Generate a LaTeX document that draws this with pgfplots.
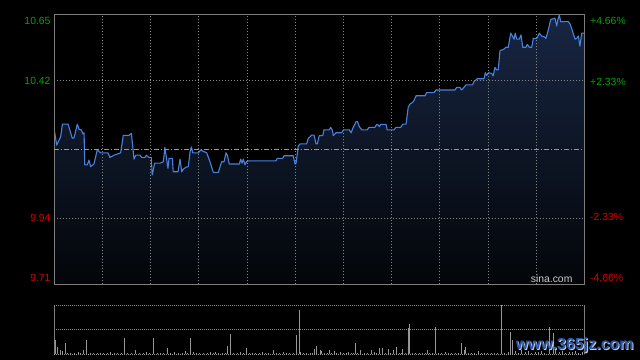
\documentclass[border=0pt]{standalone}
\usepackage{pgfplots}
\pgfplotsset{compat=1.18}
\usepackage{pgfplotstable}
\usepackage{fontspec}
\setmainfont{Liberation Sans}
\definecolor{cline}{RGB}{72,130,222}
\definecolor{cfilltop}{RGB}{24,38,66}
\definecolor{cfillbot}{RGB}{3,5,9}
\definecolor{cgrid}{RGB}{135,135,135}
\definecolor{cborder}{RGB}{125,125,125}
\definecolor{cgreen}{RGB}{0,165,0}
\definecolor{cred}{RGB}{215,0,0}
\definecolor{cvol}{RGB}{150,150,150}
\definecolor{cwm}{RGB}{38,86,170}

\pgfplotstableread{
m p
0 10.248
1.1 10.195
2.9 10.224
3.7 10.268
6.3 10.268
8.2 10.219
9.0 10.220
10.5 10.268
11.3 10.250
12.3 10.248
13.1 10.234
13.6 10.238
13.9 10.126
15.1 10.126
15.8 10.143
16.6 10.120
18.1 10.129
19.6 10.178
21.2 10.168
24.5 10.168
25.4 10.152
27.3 10.160
30.3 10.168
31.5 10.229
34.1 10.229
35.2 10.236
36.4 10.146
37.2 10.160
39.1 10.160
39.9 10.152
41.4 10.152
42.0 10.160
43.2 10.152
44.3 10.152
44.7 10.091
45.2 10.108
45.8 10.132
48.3 10.132
49.8 10.137
50.5 10.187
51.9 10.114
52.4 10.149
53.9 10.149
54.3 10.102
56.5 10.102
57.4 10.146
58.2 10.102
58.9 10.111
60.1 10.118
61.2 10.120
62.0 10.172
62.6 10.189
63.2 10.168
65.8 10.168
66.8 10.178
67.8 10.174
69.6 10.168
71.1 10.137
72.6 10.100
74.9 10.100
76.4 10.137
77.5 10.137
78.4 10.168
79.0 10.160
79.9 10.129
84.5 10.129
85.1 10.146
85.7 10.132
86.3 10.146
87.1 10.126
87.8 10.137
88.6 10.140
101.2 10.140
101.8 10.149
104.3 10.149
104.9 10.158
109.1 10.158
109.9 10.129
110.4 10.132
111.4 10.192
112.2 10.199
115.2 10.199
116.0 10.219
116.8 10.224
117.5 10.230
118.6 10.230
119.5 10.199
120.1 10.199
121.0 10.228
122.6 10.228
123.1 10.248
125.6 10.248
126.2 10.257
126.9 10.248
127.4 10.228
128.6 10.238
131.2 10.238
132.0 10.248
134.7 10.248
135.5 10.238
136.5 10.257
137.8 10.277
138.4 10.277
139.3 10.259
140.4 10.248
142.9 10.248
143.7 10.257
146.4 10.257
147.2 10.267
147.9 10.265
148.4 10.259
149.0 10.267
151.5 10.267
152.0 10.248
155.1 10.248
156.0 10.257
158.2 10.257
159.1 10.268
160.6 10.268
161.6 10.327
162.4 10.338
163.6 10.344
164.2 10.350
165.2 10.367
169.3 10.367
170.0 10.378
173.4 10.378
174.3 10.387
183.0 10.387
183.7 10.396
185.2 10.396
186.0 10.387
186.7 10.393
188.0 10.405
191.0 10.405
191.6 10.416
193.1 10.426
196.2 10.426
196.8 10.447
197.4 10.438
198.2 10.447
199.7 10.445
200.4 10.436
201.2 10.466
202.0 10.457
202.7 10.457
203.5 10.524
205.3 10.529
206.2 10.536
207.3 10.536
208.4 10.585
209.3 10.573
209.9 10.564
210.5 10.585
211.1 10.564
212.3 10.564
213.1 10.579
213.9 10.536
215.4 10.536
216.0 10.546
216.9 10.536
218.0 10.536
218.7 10.567
220.3 10.567
221.5 10.585
222.5 10.575
223.6 10.573
224.5 10.567
225.6 10.598
226.7 10.633
228.6 10.637
229.4 10.610
229.9 10.631
230.6 10.648
231.2 10.625
234.7 10.625
235.5 10.617
236.2 10.602
237.3 10.575
237.8 10.564
238.5 10.567
239.3 10.575
240.0 10.540
240.8 10.585
241.9 10.585
}\pricedata

\pgfplotstableread{
m v
0.3 30
1.4 14
2.6 9
3.7 7
5.0 22
5.9 3
7.2 3
9.1 2
10.8 4
12.0 2
13.2 9
14.6 30
16.6 3
17.8 3
19.6 3
21.0 2
22.5 3
24.1 2
25.8 4
27.5 2
29.0 3
30.6 2
32.0 34
33.5 3
35.0 2
37.2 9
38.8 3
40.5 2
42.0 4
43.6 2
45.2 34
47.0 3
48.5 2
50.0 3
51.6 12
53.2 2
55.0 4
56.8 3
58.4 2
60.0 7
61.0 3
62.1 34
63.5 4
64.9 2
66.5 3
68.0 2
69.7 3
71.4 4
72.5 2
73.4 4
75.0 3
76.7 3
78.0 2
79.0 17
80.4 41
82.0 3
83.5 2
85.0 4
86.5 2
87.7 12
89.0 3
90.6 2
92.0 3
93.5 2
95.0 4
96.5 3
98.0 2
100.0 9
101.5 3
103.0 2
104.6 4
106.0 2
107.5 3
109.0 2
110.5 39
111.9 90
112.5 4
113.8 3
115.2 2
116.8 3
118.0 2
119.0 11
119.6 17
121.6 9
122.1 7
123.5 3
124.6 2
125.6 9
126.6 3
127.7 7
129.0 2
130.5 4
132.0 2
133.3 3
134.2 4
135.5 2
136.5 3
137.4 22
138.5 2
140.0 9
141.5 3
143.0 2
144.9 9
146.0 4
147.3 2
148.4 12
149.8 12
151.0 3
152.5 10
153.5 2
154.8 9
156.3 15
157.5 3
158.3 2
159.1 10
160.5 3
161.8 53
162.1 61
163.5 2
165.0 3
166.5 2
168.0 3
169.3 2
170.3 9
171.5 3
172.8 2
174.0 56
175.5 3
177.0 2
178.5 4
180.0 2
181.5 3
183.0 2
184.5 3
186.0 22
187.1 9
187.8 14
189.0 2
190.5 3
192.0 2
193.6 7
195.0 3
196.5 2
198.0 3
199.5 2
201.0 3
202.5 2
204.1 100
205.5 3
207.2 5
208.1 46
209.3 29
210.5 6
212.0 3
213.5 8
215.0 4
216.5 6
218.0 3
219.5 5
221.0 4
222.5 7
224.0 3
226.0 56
227.8 43
229.0 8
230.5 4
232.0 6
233.5 3
235.0 5
236.5 4
238.0 6
239.5 3
241.0 4
}\voldata

\newcommand{\lbl}{\fontsize{10.4bp}{12bp}\selectfont}

\begin{document}
\begin{tikzpicture}
\fill[black] (0,0) rectangle (640bp,360bp);

% main price axis
\begin{axis}[
  at={(54.3bp,75.7bp)}, anchor=south west,
  scale only axis, width=530bp, height=269.8bp,
  xmin=0, xmax=242, ymin=9.71, ymax=10.65,
  axis on top,
  axis line style={draw=cborder, line width=0.9bp},
  tick style={draw=none},
  xtick={22,44,66,88,110,132,154,176,198,220},
  xticklabels={},
  ytick={9.71,9.94,10.42,10.65},
  yticklabels={
    {\raisebox{2.4bp}[0pt][0pt]{\color{cred}9.71}},
    {\raisebox{-3.6bp}[0pt][0pt]{\color{cred}9.94}},
    {\raisebox{-3.6bp}[0pt][0pt]{\color{cgreen}10.42}},
    {\raisebox{-9.6bp}[0pt][0pt]{\color{cgreen}10.65}}},
  yticklabel style={anchor=east, inner sep=0pt, xshift=-3.6bp, font=\lbl},
  grid=major,
  grid style={cgrid, line width=0.7bp, dash pattern=on 1bp off 2bp},
  extra y ticks={10.18},
  extra y tick labels={},
  extra y tick style={grid=major, grid style={color=cgrid!85!white, line width=0.8bp, dash pattern=on 5bp off 2bp on 1bp off 2bp}},
  clip=true,
]
\addplot[draw=none, top color=cfilltop, bottom color=cfillbot] table[x=m,y=p] {\pricedata} |- (axis cs:0,9.71) -- cycle;
\addplot[cline, line width=1.1bp, line join=round] table[x=m,y=p] {\pricedata};
\node[anchor=south east, inner sep=0pt, text=white!80!black, font=\lbl] at (rel axis cs:0.978,0.004) {sina.com};
\end{axis}

% percent labels on the right
\begin{axis}[
  at={(54.3bp,75.7bp)}, anchor=south west,
  scale only axis, width=530bp, height=269.8bp,
  xmin=0, xmax=242, ymin=-4.66, ymax=4.66,
  axis line style={draw=none},
  tick style={draw=none},
  xtick=\empty,
  yticklabel pos=right,
  ytick={-4.66,-2.33,2.33,4.66},
  yticklabels={
    {\raisebox{2.4bp}[0pt][0pt]{\color{cred}-4.66\%}},
    {\raisebox{-3.6bp}[0pt][0pt]{\color{cred}-2.33\%}},
    {\raisebox{-3.6bp}[0pt][0pt]{\color{cgreen}+2.33\%}},
    {\raisebox{-9.6bp}[0pt][0pt]{\color{cgreen}+4.66\%}}},
  yticklabel style={anchor=west, inner sep=0pt, xshift=5.7bp, font=\lbl},
]
\addplot[draw=none] coordinates {(0,0)};
\end{axis}

% volume axis
\begin{axis}[
  at={(54.3bp,5.7bp)}, anchor=south west,
  scale only axis, width=530bp, height=49.3bp,
  xmin=0, xmax=242, ymin=0, ymax=100,
  axis line style={draw=none},
  tick style={draw=none},
  xtick=\empty,
  ytick={50,100},
  yticklabels={},
  ymajorgrids,
  grid style={cgrid, line width=0.9bp, dash pattern=on 1bp off 1bp},
  clip=false,
]
\addplot[ycomb, cvol, line width=0.9bp] table[x=m,y=v] {\voldata};
\draw[cborder, line width=0.9bp] (rel axis cs:0,1) -- (rel axis cs:0,0);
\draw[cborder, line width=0.9bp] (rel axis cs:1,1) -- (rel axis cs:1,0);
\draw[cvol, line width=0.9bp, dash pattern=on 1bp off 1bp] (rel axis cs:0,0) -- (rel axis cs:1,0);
\end{axis}

% watermark
\node[anchor=center, text=white!80!black, font=\fontsize{16bp}{18bp}\selectfont\bfseries] at (575.8bp,13.5bp) {www.365jz.com};
\node[anchor=center, text=cwm, font=\fontsize{16bp}{18bp}\selectfont\bfseries] at (574.8bp,14.5bp) {www.365jz.com};

\pgfresetboundingbox
\useasboundingbox (0,0) rectangle (640bp,360bp);
\end{tikzpicture}
\end{document}
